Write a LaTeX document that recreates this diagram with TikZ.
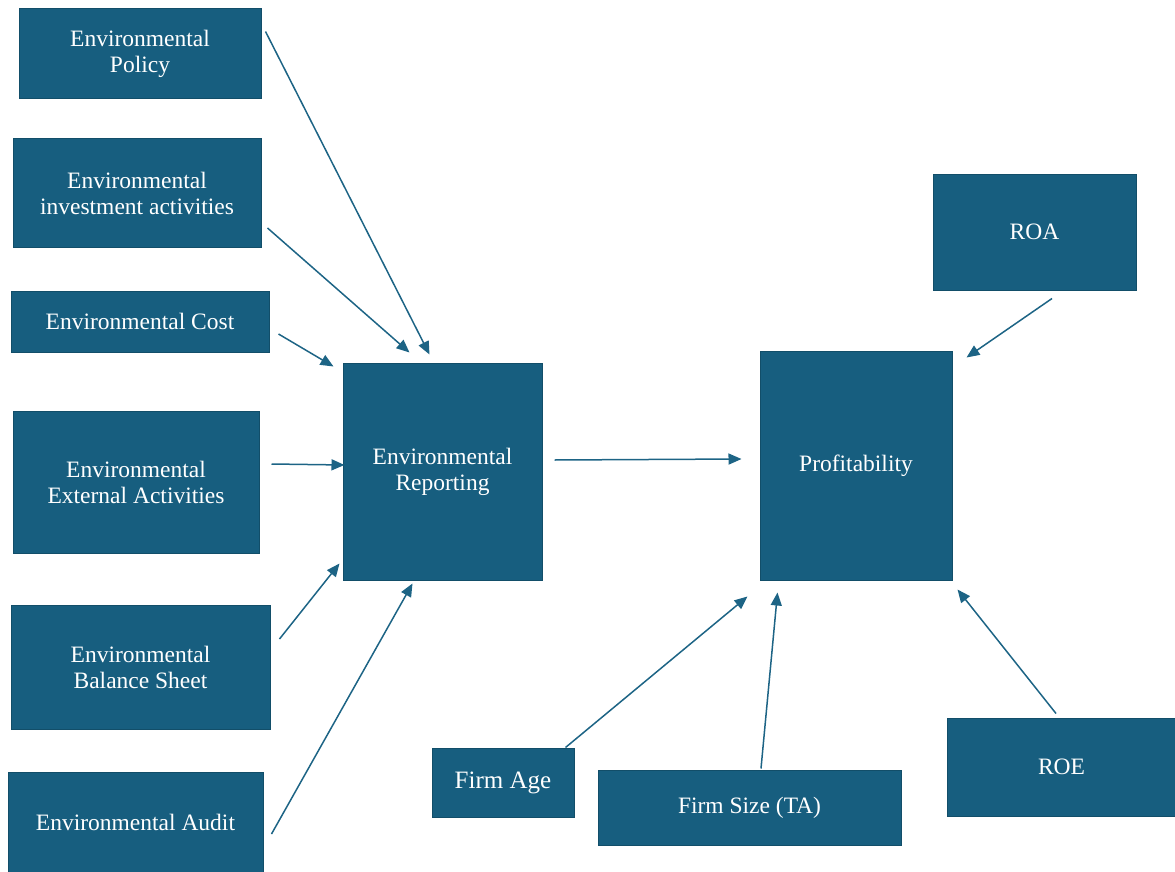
\documentclass[tikz,border=0pt]{standalone}
\usepackage{fontspec}
\setmainfont{Liberation Serif}
\usetikzlibrary{calc,arrows.meta}
\definecolor{boxblue}{HTML}{175E7F}
\definecolor{boxedge}{HTML}{124E69}
\definecolor{arrowblue}{HTML}{1D6485}
\tikzset{
  box/.style={fill=boxblue, draw=boxedge, line width=1pt, text=white, align=center,
    inner sep=0pt, font=\fontsize{23.5}{26}\selectfont},
  arr/.style={draw=arrowblue, line width=1.5pt, -{Triangle[length=13pt,width=11pt]}}
}
\begin{document}
\begin{tikzpicture}[x=1pt,y=-1pt]
\useasboundingbox (0,0) rectangle (1175,872);
% left column
\node[box, minimum width=242, minimum height=90] (pol) at (140,54) {Environmental\\Policy};
\node[box, minimum width=248, minimum height=108] (inv) at (137,193) {Environmental\\investment activities};
\node[box, minimum width=258, minimum height=61] (cost) at (140,321.5) {Environmental Cost};
\node[box, minimum width=246, minimum height=142] (ext) at (136,482) {Environmental\\External Activities};
\node[box, minimum width=259, minimum height=124] (bal) at (140.5,667) {Environmental\\Balance Sheet};
\node[box, minimum width=255, minimum height=100] (aud) at (135.5,822.5) {Environmental Audit};
% centre
\node[box, minimum width=199, minimum height=217] (rep) at (442.5,471.5) {Environmental\\Reporting};
\node[box, minimum width=192, minimum height=229] (prof) at (856,465.5) {Profitability};
% right
\node[box, minimum width=203, minimum height=116] (roa) at (1034.5,232) {ROA};
\node[box, minimum width=229, minimum height=98] (roe) at (1061.5,767) {ROE};
\node[box, minimum width=142, minimum height=69, font=\fontsize{25}{28}\selectfont] (age) at (503,782.5) {Firm Age};
\node[box, minimum width=303, minimum height=75] (size) at (749.5,807.5) {Firm Size (TA)};
% connectors
\draw[arr] ($(pol.north east)+(4,23)$) -- ($(rep.north west)+(87,-8)$);
\draw[arr] ($(inv.east)+(6,35)$) -- ($(rep.north west)+(67,-10)$);
\draw[arr] ($(cost.east)+(9,12.5)$) -- ($(rep.north west)+(-9,4)$);
\draw[arr] ($(ext.east)+(12,-18)$) -- ($(rep.west)+(2,-6.5)$);
\draw[arr] ($(bal.east)+(9,-28)$) -- ($(rep.south west)+(-3,-17)$);
\draw[arr] ($(aud.east)+(8,11.5)$) -- ($(rep.south west)+(70,3)$);
\draw[arr] ($(rep.east)+(12,-11.5)$) -- ($(prof.west)+(-18,-6.5)$);
\draw[arr] ($(roa.south)+(17.5,8)$) -- ($(prof.north east)+(14,7)$);
\draw[arr] ($(age.north east)+(-9,0)$) -- ($(prof.south west)+(-12,16)$);
\draw[arr] ($(size.north)+(11.5,-1)$) -- ($(prof.south west)+(18,12)$);
\draw[arr] ($(roe.north)+(-5.5,-4)$) -- ($(prof.south east)+(5,9)$);
\end{tikzpicture}
\end{document}
